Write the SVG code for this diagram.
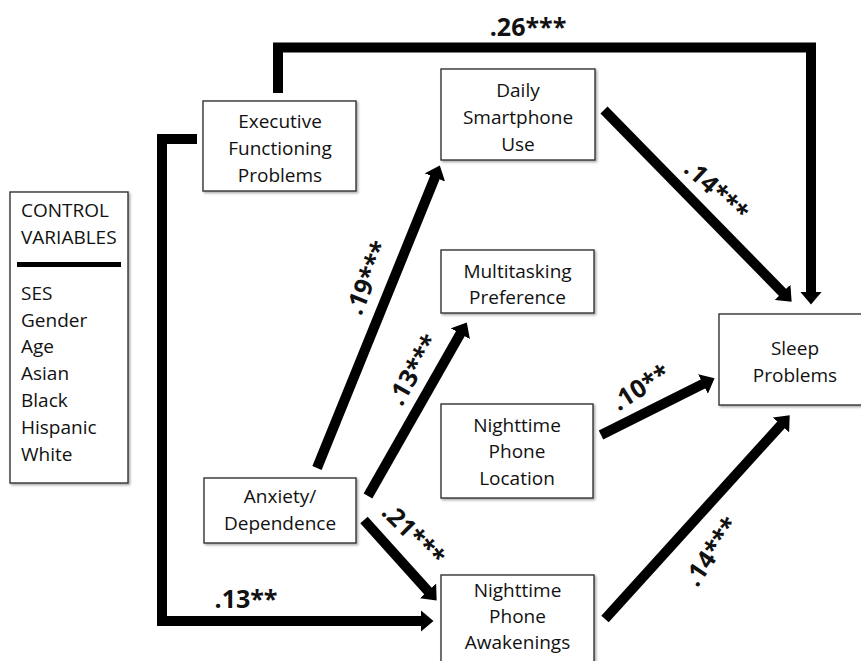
<svg xmlns="http://www.w3.org/2000/svg" width="861" height="661" viewBox="0 0 861 661">
<style>
.box{fill:#fff;stroke:#333;stroke-width:1.4;filter:url(#sh)}
.t{font-family:"Open Sans","Liberation Sans",sans-serif;font-size:19px;fill:#111;text-anchor:middle}
.tl{font-family:"Open Sans","Liberation Sans",sans-serif;font-size:19px;fill:#111}
.c{fill:none;stroke:#000;stroke-width:10;stroke-linejoin:miter}
.lab{font-family:"Open Sans","Liberation Sans",sans-serif;font-size:25px;font-weight:bold;fill:#111;text-anchor:middle}
</style>
<defs>
<filter id="sh" x="-10%" y="-10%" width="130%" height="130%">
<feDropShadow dx="1.5" dy="1.5" stdDeviation="1" flood-color="#000" flood-opacity="0.35"/>
</filter>
<marker id="ah" viewBox="0 0 13 22" markerWidth="13" markerHeight="22" refX="0.5" refY="11" orient="auto" markerUnits="userSpaceOnUse">
<path d="M0,0 L13,11 L0,22 Z" fill="#000"/>
</marker>
</defs>
<rect width="861" height="661" fill="#fff"/>

<g id="connectors">
<path class="c" d="M278 93 V47.5 H811 V292" marker-end="url(#ah)"/>
<path class="c" d="M197 139 H162 V621 H421" marker-end="url(#ah)"/>
<line class="c" x1="317" y1="468" x2="435.1" y2="177" marker-end="url(#ah)"/>
<line class="c" x1="368" y1="496" x2="460.6" y2="333.3" marker-end="url(#ah)"/>
<line class="c" x1="364" y1="520" x2="428.3" y2="591.3" marker-end="url(#ah)"/>
<line class="c" x1="604" y1="110" x2="782.9" y2="292.7" marker-end="url(#ah)"/>
<line class="c" x1="601" y1="435" x2="703.4" y2="383.8" marker-end="url(#ah)"/>
<line class="c" x1="605" y1="619" x2="781.3" y2="424.6" marker-end="url(#ah)"/>
</g>

<g id="labels">
<text class="lab" x="528" y="36">.26***</text>
<text class="lab" x="246" y="608">.13**</text>
<text class="lab" transform="translate(368,278) rotate(-68)" x="0" y="8">.19***</text>
<text class="lab" transform="translate(414,370) rotate(-60)" x="0" y="8">.13***</text>
<text class="lab" transform="translate(413,535) rotate(45)" x="0" y="8">.21***</text>
<text class="lab" transform="translate(716,191) rotate(43)" x="0" y="8">.14***</text>
<text class="lab" transform="translate(641,388) rotate(-32)" x="0" y="8">.10**</text>
<text class="lab" transform="translate(712,552) rotate(-56)" x="0" y="8">.14***</text>
</g>

<g id="control">
<rect class="box" x="10" y="192" width="118" height="291"/>
<text class="tl" x="21" y="217">CONTROL</text>
<text class="tl" x="21" y="244">VARIABLES</text>
<line x1="17" y1="264.5" x2="121" y2="264.5" stroke="#000" stroke-width="5"/>
<text class="tl" x="21" y="300">SES</text>
<text class="tl" x="21" y="327">Gender</text>
<text class="tl" x="21" y="353">Age</text>
<text class="tl" x="21" y="380">Asian</text>
<text class="tl" x="21" y="407">Black</text>
<text class="tl" x="21" y="434">Hispanic</text>
<text class="tl" x="21" y="461">White</text>
</g>

<g id="executive">
<rect class="box" x="203" y="101" width="153" height="90"/>
<text class="t" x="280" y="128">Executive</text>
<text class="t" x="280" y="155">Functioning</text>
<text class="t" x="280" y="182">Problems</text>
</g>

<g id="daily">
<rect class="box" x="441" y="69" width="154" height="91"/>
<text class="t" x="518" y="97">Daily</text>
<text class="t" x="518" y="124">Smartphone</text>
<text class="t" x="518" y="151">Use</text>
</g>

<g id="multitasking">
<rect class="box" x="441" y="250" width="153" height="63"/>
<text class="t" x="517.5" y="278">Multitasking</text>
<text class="t" x="517.5" y="304">Preference</text>
</g>

<g id="location">
<rect class="box" x="441" y="404" width="152" height="94"/>
<text class="t" x="517" y="432">Nighttime</text>
<text class="t" x="517" y="458">Phone</text>
<text class="t" x="517" y="485">Location</text>
</g>

<g id="anxiety">
<rect class="box" x="204" y="478" width="152" height="65"/>
<text class="t" x="280" y="503">Anxiety/</text>
<text class="t" x="280" y="530">Dependence</text>
</g>

<g id="awakenings">
<rect class="box" x="441" y="575" width="153" height="100"/>
<text class="t" x="517.5" y="597">Nighttime</text>
<text class="t" x="517.5" y="623">Phone</text>
<text class="t" x="517.5" y="649">Awakenings</text>
</g>

<g id="sleep">
<rect class="box" x="719" y="314" width="160" height="91"/>
<text class="t" x="795" y="355">Sleep</text>
<text class="t" x="795" y="382">Problems</text>
</g>
</svg>
